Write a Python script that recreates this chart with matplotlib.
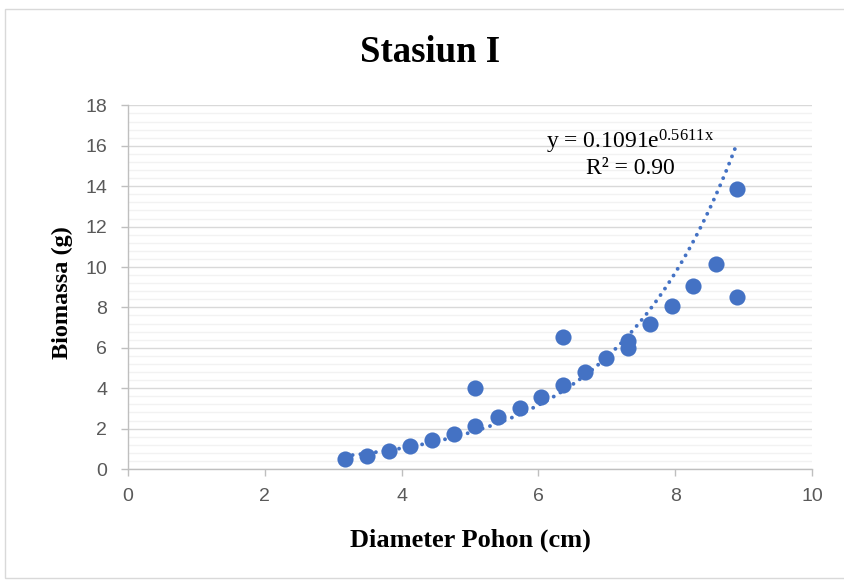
import numpy as np
import matplotlib
matplotlib.use("Agg")
import matplotlib.pyplot as plt
from matplotlib.patches import Rectangle
from matplotlib.ticker import MultipleLocator

diameter = [3.17, 3.50, 3.82, 4.13, 4.45, 4.77, 5.08, 5.08, 5.41, 5.73, 6.04, 6.36, 6.36,
            6.68, 6.99, 7.31, 7.31, 7.63, 7.95, 8.26, 8.59, 8.91, 8.91]
biomassa = [0.50, 0.66, 0.89, 1.15, 1.42, 1.75, 2.14, 4.01, 2.57, 3.03, 3.58, 4.16, 6.55,
            4.82, 5.51, 6.34, 5.98, 7.16, 8.07, 9.07, 10.13, 13.85, 8.53]
coef_a = 0.1091
coef_b = 0.5611
r2_text = "R² = 0.90"
title = "Stasiun I"
xlabel = "Diameter Pohon (cm)"
ylabel = "Biomassa (g)"

blue = "#4472C4"
serif = "Liberation Serif"

fig = plt.figure(figsize=(8.45, 5.81), dpi=100)
fig.patches.append(Rectangle((5/845, 3/581), 845/845, 569/581, transform=fig.transFigure,
                             fill=False, edgecolor="#d9d9d9", linewidth=1.0))
ax = fig.add_axes([128/845, 1-469/581, 684/845, (469-105.4)/581])

ax.set_xlim(0, 10)
ax.set_ylim(0, 18)
ax.xaxis.set_major_locator(MultipleLocator(2))
ax.yaxis.set_major_locator(MultipleLocator(2))
ax.yaxis.set_minor_locator(MultipleLocator(0.4))
ax.grid(axis="y", which="major", color="#d9d9d9", linewidth=1.0, zorder=0)
ax.grid(axis="y", which="minor", color="#f2f2f2", linewidth=1.0, zorder=0)
ax.tick_params(axis="y", which="minor", length=0)
ax.tick_params(axis="both", which="major", length=5, color="#bfbfbf", labelcolor="#595959",
               labelsize=14, width=1)
for lbl in ax.get_xticklabels() + ax.get_yticklabels():
    lbl.set_family("Liberation Sans")
ax.tick_params(axis="x", pad=9)
ax.tick_params(axis="y", pad=10)
for s in ["top", "right"]:
    ax.spines[s].set_visible(False)
for s in ["left", "bottom"]:
    ax.spines[s].set_color("#bfbfbf")
    ax.spines[s].set_linewidth(1.0)

x = np.array(diameter)
xs = np.linspace(x.min(), x.max(), 300)
ax.plot(xs, coef_a*np.exp(coef_b*xs), linestyle=(0, (0.01, 2.0)), dash_capstyle="round",
        color=blue, linewidth=2.8, zorder=2)
ax.scatter(diameter, biomassa, s=135, color=blue, zorder=3, linewidths=0)

ax.text(7.34, 16.2, f"y = {coef_a}e$\\mathregular{{^{{{coef_b}x}}}}$", fontsize=17, family=serif,
        ha="center", va="center")
ax.text(7.34, 14.9, r2_text, fontsize=17, family=serif, ha="center", va="center")

fig.text(430/845, 1-53/581, title, fontsize=26.5, fontweight="bold", family=serif,
         ha="center", va="center")
fig.text(470/845, 1-540/581, xlabel, fontsize=19, fontweight="bold", family=serif,
         ha="center", va="center")
fig.text(62/845, 1-293/581, ylabel, fontsize=17.5, fontweight="bold", family=serif,
         ha="center", va="center", rotation=90)

fig.savefig("out.png", dpi=100)
